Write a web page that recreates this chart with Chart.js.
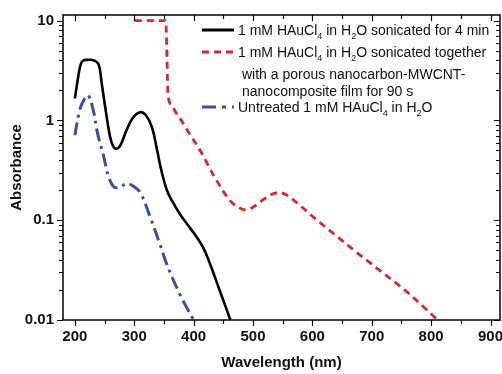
<!DOCTYPE html>
<html>
<head>
<meta charset="utf-8">
<script src="https://cdn.jsdelivr.net/npm/chart.js@4.4.0/dist/chart.umd.min.js"></script>
<style>
  html, body { margin: 0; padding: 0; background: #fff; }
  #wrap { width: 502px; height: 374px; }
</style>
</head>
<body>
<div id="wrap"><canvas id="chart" width="502" height="374"></canvas></div>
<script>
// values
const xTicks = [200, 300, 400, 500, 600, 700, 800, 900];
const yTicks = [0.01, 0.1, 1, 10];

// 1 mM HAuCl4 in H2O sonicated for 4 min (solid black)
const sonicWl = [200, 205, 209, 213, 222, 232, 240, 245, 251, 259, 264, 270, 277, 287, 298, 310, 320, 330, 338, 346, 355, 364, 377, 390, 405, 417, 428, 445, 462];
const sonicAbs = [1.66, 2.6, 3.5, 3.95, 4.05, 4.0, 3.65, 2.4, 1.37, 0.7, 0.56, 0.52, 0.57, 0.8, 1.07, 1.21, 1.12, 0.85, 0.52, 0.31, 0.2, 0.155, 0.115, 0.09, 0.068, 0.052, 0.036, 0.019, 0.01];

// sonicated together with the nanocarbon film (red dashed)
const filmWl = [301, 353, 357, 363, 370, 377, 391, 411, 434, 461, 475, 487, 500, 512, 530, 543, 556, 569, 608, 648, 670, 721, 760, 800, 811];
const filmAbs = [10, 10, 1.8, 1.42, 1.2, 1.05, 0.77, 0.5, 0.28, 0.158, 0.135, 0.127, 0.135, 0.152, 0.18, 0.19, 0.18, 0.158, 0.1, 0.064, 0.05, 0.029, 0.019, 0.0115, 0.01];

// untreated (blue dash-dot)
const untreatedWl = [200, 208, 215, 222, 231, 238, 248, 257, 266, 276, 287, 298, 310, 327, 343, 355, 377, 400];
const untreatedAbs = [0.71, 1.26, 1.6, 1.79, 1.26, 0.75, 0.45, 0.27, 0.215, 0.215, 0.232, 0.22, 0.19, 0.107, 0.058, 0.036, 0.018, 0.01];

const RED = "#e0242c";
const BLUE = "#3b4ea6";
const FONT = 'Arial, "Liberation Sans", sans-serif';

function pts(xs, ys) {
    return xs.map((x, i) => ({ x: x, y: ys[i] }));
}

// tick marks, frame and the legend with subscripts
const decor = {
    id: "decor",
    afterDraw(chart) {
        const { ctx, chartArea: a, scales: { x, y } } = chart;
        ctx.save();
        ctx.strokeStyle = "#000";
        ctx.lineWidth = 1.5;
        ctx.strokeRect(a.left, a.top, a.right - a.left, a.bottom - a.top);

        ctx.lineWidth = 1.2;
        ctx.beginPath();
        for (let v = 200; v <= 900; v += 50) {
            const px = Math.round(x.getPixelForValue(v)) + 0.5;
            const len = v % 100 === 0 ? 6 : 4;
            ctx.moveTo(px, a.bottom); ctx.lineTo(px, a.bottom + len);
            ctx.moveTo(px, a.top); ctx.lineTo(px, a.top + len);
        }
        for (const d of [0.01, 0.1, 1]) {
            for (let m = 1; m <= 10; m++) {
                const py = Math.round(y.getPixelForValue(d * m)) + 0.5;
                const len = (m === 1 || m === 10) ? 6 : 4;
                ctx.moveTo(a.left, py); ctx.lineTo(a.left - len, py);
                ctx.moveTo(a.right, py); ctx.lineTo(a.right - len, py);
            }
        }
        ctx.stroke();

        // legend
        const sx0 = 202, sx1 = 234;
        ctx.lineWidth = 3;
        ctx.strokeStyle = "#000";
        ctx.setLineDash([]);
        ctx.beginPath(); ctx.moveTo(sx0, 30); ctx.lineTo(sx1, 30); ctx.stroke();
        ctx.strokeStyle = RED;
        ctx.setLineDash([7, 5]);
        ctx.beginPath(); ctx.moveTo(sx0, 52); ctx.lineTo(sx1, 52); ctx.stroke();
        ctx.strokeStyle = BLUE;
        ctx.setLineDash([14, 6, 4, 6]);
        ctx.beginPath(); ctx.moveTo(sx0, 107); ctx.lineTo(sx1, 107); ctx.stroke();
        ctx.setLineDash([]);

        ctx.fillStyle = "#111";
        ctx.textBaseline = "alphabetic";
        const rich = (parts, x0, y0) => {
            let cx = x0;
            for (const [t, sub] of parts) {
                ctx.font = sub ? "9px " + FONT : "14px " + FONT;
                ctx.fillText(t, cx, sub ? y0 + 4 : y0);
                cx += ctx.measureText(t).width;
            }
        };
        rich([["1 mM HAuCl", 0], ["4", 1], [" in H", 0], ["2", 1], ["O sonicated for 4 min", 0]], 238, 35);
        rich([["1 mM HAuCl", 0], ["4", 1], [" in H", 0], ["2", 1], ["O sonicated together", 0]], 238, 57);
        rich([["with a porous nanocarbon-MWCNT-", 0]], 242, 79);
        rich([["nanocomposite film for 90 s", 0]], 242, 96);
        rich([["Untreated 1 mM HAuCl", 0], ["4", 1], [" in H", 0], ["2", 1], ["O", 0]], 238, 112);
        ctx.restore();
    }
};

const ctx = document.getElementById("chart").getContext("2d");

new Chart(ctx, {
    type: "line",
    data: {
        datasets: [
            {
                label: "sonicated 4 min",
                data: pts(sonicWl, sonicAbs),
                borderColor: "#000",
                borderWidth: 2.6,
                tension: 0.4
            },
            {
                label: "with film",
                data: pts(filmWl, filmAbs),
                borderColor: RED,
                borderWidth: 2.8,
                borderDash: [7, 5],
                cubicInterpolationMode: "monotone"
            },
            {
                label: "untreated",
                data: pts(untreatedWl, untreatedAbs),
                borderColor: BLUE,
                borderWidth: 3,
                borderDash: [13, 5, 3, 5],
                tension: 0.4
            }
        ]
    },
    options: {
        responsive: false,
        animation: false,
        layout: { padding: { top: 15, right: 2, left: 0, bottom: 0 } },
        elements: {
            point: { radius: 0 },
            line: { fill: false }
        },
        plugins: { legend: { display: false }, tooltip: { enabled: false } },
        scales: {
            x: {
                type: "linear",
                min: 180,
                max: 916,
                grid: { display: false, drawTicks: false },
                border: { display: false },
                afterBuildTicks: (s) => { s.ticks = xTicks.map(v => ({ value: v })); },
                afterFit: (s) => { s.height = 54; s.paddingLeft = 0; s.paddingRight = 0; },
                ticks: {
                    padding: 8,
                    color: "#111",
                    font: { family: FONT, size: 15, weight: "bold" },
                    maxRotation: 0,
                    autoSkip: false
                },
                title: {
                    display: true,
                    text: "Wavelength (nm)",
                    color: "#111",
                    padding: { top: 2, bottom: 2 },
                    font: { family: FONT, size: 15, weight: "bold" }
                }
            },
            y: {
                type: "logarithmic",
                min: 0.01,
                max: 11.4,
                grid: { display: false, drawTicks: false },
                border: { display: false },
                afterBuildTicks: (s) => { s.ticks = yTicks.map(v => ({ value: v })); },
                afterFit: (s) => { s.width = 63; s.paddingTop = 0; s.paddingBottom = 0; },
                ticks: {
                    padding: 9,
                    color: "#111",
                    font: { family: FONT, size: 15, weight: "bold" },
                    autoSkip: false,
                    callback: (v) => String(v)
                },
                title: {
                    display: true,
                    text: "Absorbance",
                    color: "#111",
                    padding: { top: 8, bottom: 8 },
                    font: { family: FONT, size: 15, weight: "bold" }
                }
            }
        }
    },
    plugins: [decor]
});
</script>
</body>
</html>
